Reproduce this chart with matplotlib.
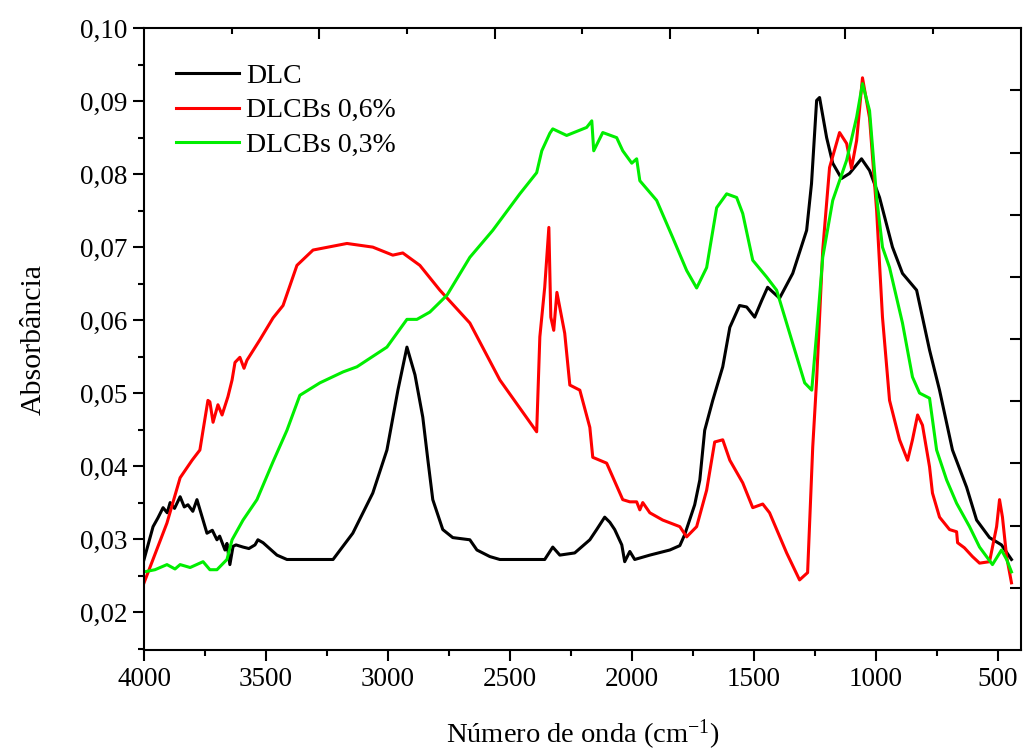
import numpy as np
import matplotlib.pyplot as plt
from matplotlib.ticker import MultipleLocator, FuncFormatter

plt.rcParams['font.family'] = ['Liberation Serif', 'DejaVu Serif']
plt.rcParams['mathtext.fontset'] = 'custom'
plt.rcParams['mathtext.rm'] = 'Liberation Serif'
plt.rcParams['mathtext.default'] = 'regular'

# DLC (black)
dlc_x = [4000, 3963, 3943, 3922, 3905, 3893, 3875, 3852, 3835, 3820, 3800, 3783, 3758, 3742,
         3720, 3701, 3690, 3668, 3660, 3648, 3635, 3623, 3594, 3570, 3545, 3533, 3512, 3455,
         3414, 3225, 3144, 3062, 3004, 2959, 2922, 2889, 2857, 2836, 2816, 2775, 2734, 2664,
         2635, 2582, 2541, 2357, 2324, 2295, 2234, 2172, 2144, 2111, 2090, 2070, 2041, 2029,
         2008, 1988, 1926, 1844, 1803, 1783, 1742, 1721, 1701, 1668, 1627, 1598, 1558, 1529,
         1496, 1467, 1443, 1394, 1340, 1283, 1263, 1242, 1230, 1201, 1176, 1140, 1107, 1058,
         1025, 984, 931, 890, 832, 779, 738, 685, 627, 586, 533, 484, 443]
dlc_y = [0.0272, 0.0317, 0.0329, 0.0343, 0.0336, 0.0350, 0.0342, 0.0358, 0.0344, 0.0347, 0.0338, 0.0354, 0.0326, 0.0308,
         0.0312, 0.0299, 0.0304, 0.0285, 0.0294, 0.0265, 0.0290, 0.0292, 0.0289, 0.0287, 0.0292, 0.0299, 0.0295, 0.0278,
         0.0272, 0.0272, 0.0308, 0.0363, 0.0422, 0.0504, 0.0563, 0.0525, 0.0467, 0.0408, 0.0354, 0.0313, 0.0302, 0.0299,
         0.0285, 0.0276, 0.0272, 0.0272, 0.0289, 0.0278, 0.0281, 0.0299, 0.0313, 0.0330, 0.0323, 0.0313, 0.0292, 0.0269,
         0.0283, 0.0272, 0.0278, 0.0285, 0.0291, 0.0306, 0.0347, 0.0381, 0.0449, 0.0490, 0.0536, 0.0590, 0.0620, 0.0618,
         0.0604, 0.0627, 0.0645, 0.0630, 0.0664, 0.0723, 0.0787, 0.0901, 0.0905, 0.0850, 0.0815, 0.0794, 0.0801, 0.0821,
         0.0805, 0.0768, 0.0700, 0.0664, 0.0641, 0.0559, 0.0504, 0.0422, 0.0371, 0.0326, 0.0302, 0.0292, 0.0272]

# DLCBs 0,6% (red)
r06_x = [4000, 3906, 3852, 3803, 3771, 3758, 3738, 3730, 3717, 3697, 3680, 3656, 3639, 3627,
         3607, 3590, 3578, 3525, 3471, 3430, 3373, 3307, 3168, 3062, 2980, 2939, 2869, 2787,
         2664, 2541, 2390, 2377, 2357, 2340, 2332, 2320, 2307, 2275, 2254, 2213, 2172, 2160,
         2103, 2037, 2008, 1980, 1967, 1955, 1926, 1873, 1803, 1775, 1734, 1693, 1660, 1627,
         1598, 1545, 1504, 1463, 1435, 1365, 1312, 1279, 1258, 1242, 1217, 1189, 1148, 1119,
         1099, 1078, 1054, 1025, 996, 972, 943, 902, 869, 849, 828, 808, 779, 767, 738, 697,
         668, 664, 636, 603, 574, 533, 504, 492, 480, 463, 443]
r06_y = [0.0240, 0.0322, 0.0384, 0.0408, 0.0422, 0.0449, 0.0490, 0.0488, 0.0460, 0.0484, 0.0470, 0.0495, 0.0518, 0.0542,
         0.0549, 0.0534, 0.0545, 0.0573, 0.0603, 0.0620, 0.0675, 0.0696, 0.0705, 0.0700, 0.0689, 0.0692, 0.0675, 0.0641,
         0.0596, 0.0518, 0.0447, 0.0577, 0.0645, 0.0727, 0.0604, 0.0586, 0.0638, 0.0582, 0.0511, 0.0504, 0.0453, 0.0412,
         0.0404, 0.0354, 0.0351, 0.0351, 0.0340, 0.0350, 0.0336, 0.0326, 0.0317, 0.0303, 0.0317, 0.0367, 0.0433, 0.0436,
         0.0408, 0.0377, 0.0343, 0.0348, 0.0336, 0.0281, 0.0244, 0.0254, 0.0426, 0.0518, 0.0696, 0.0809, 0.0857, 0.0842,
         0.0808, 0.0846, 0.0932, 0.0877, 0.0750, 0.0604, 0.0490, 0.0436, 0.0408, 0.0436, 0.0470, 0.0456, 0.0399, 0.0363, 0.0330, 0.0313,
         0.0310, 0.0295, 0.0288, 0.0276, 0.0267, 0.0269, 0.0317, 0.0354, 0.0330, 0.0276, 0.0240]

# DLCBs 0,3% (green)
r03_x = [4000, 3955, 3906, 3873, 3852, 3811, 3758, 3730, 3701, 3660, 3639, 3594, 3537, 3471,
         3414, 3361, 3279, 3184, 3127, 3004, 2922, 2881, 2828, 2758, 2664, 2570, 2459, 2390,
         2369, 2336, 2324, 2267, 2185, 2164, 2156, 2119, 2062, 2037, 2000, 1980, 1967, 1898,
         1832, 1775, 1734, 1693, 1652, 1611, 1570, 1545, 1504, 1447, 1406, 1340, 1291, 1262,
         1242, 1217, 1176, 1119, 1078, 1054, 1025, 996, 972, 943, 890, 849, 820, 779, 750,
         709, 668, 615, 574, 521, 484, 463, 443]
r03_y = [0.0255, 0.0258, 0.0265, 0.0259, 0.0265, 0.0261, 0.0269, 0.0258, 0.0258, 0.0272, 0.0299, 0.0326, 0.0354, 0.0406,
         0.0449, 0.0497, 0.0514, 0.0529, 0.0536, 0.0563, 0.0601, 0.0601, 0.0611, 0.0634, 0.0686, 0.0723, 0.0773, 0.0802,
         0.0832, 0.0856, 0.0862, 0.0853, 0.0864, 0.0873, 0.0832, 0.0857, 0.0850, 0.0832, 0.0815, 0.0821, 0.0791, 0.0764,
         0.0713, 0.0668, 0.0644, 0.0672, 0.0754, 0.0773, 0.0768, 0.0746, 0.0682, 0.0659, 0.0641, 0.0568, 0.0514, 0.0504,
         0.0582, 0.0686, 0.0764, 0.0819, 0.0878, 0.0924, 0.0887, 0.0768, 0.0700, 0.0672, 0.0596, 0.0522, 0.0500, 0.0493, 0.0422,
         0.0381, 0.0349, 0.0317, 0.0289, 0.0265, 0.0285, 0.0272, 0.0255]

fig = plt.figure(figsize=(10.23, 7.51), dpi=100)
pos = [0.1408, 0.1345, 0.857, 0.828]
ax = fig.add_axes(pos)

ax.plot(dlc_x, dlc_y, color='black', lw=2.2, label='DLC')
ax.plot(r06_x, r06_y, color='#ff0000', lw=2.2, label='DLCBs 0,6%')
ax.plot(r03_x, r03_y, color='#00ee00', lw=2.2, label='DLCBs 0,3%')

ax.set_xlim(4000, 405)
ax.set_ylim(0.0148, 0.10)
ax.xaxis.set_major_locator(MultipleLocator(500))
ax.xaxis.set_minor_locator(MultipleLocator(250))
ax.yaxis.set_major_locator(MultipleLocator(0.01))
ax.yaxis.set_minor_locator(MultipleLocator(0.005))
ax.yaxis.set_major_formatter(FuncFormatter(lambda v, p: f'{v:.2f}'.replace('.', ',')))
ax.tick_params(which='major', direction='out', length=8, width=1.5, labelsize=19.5, pad=4)
ax.tick_params(which='minor', direction='out', length=4.5, width=1.5)
ax.tick_params(top=False, right=False)
for s in ax.spines.values():
    s.set_linewidth(1.5)

ax.set_xlabel(r'Número de onda (cm$^{-1}$)', fontsize=20.5, labelpad=19)
ax.set_ylabel('Absorbância', fontsize=21.5, labelpad=24)

ax.legend(loc='upper left', bbox_to_anchor=(0.036, 0.943), frameon=False, fontsize=20,
          handlelength=2.3, handletextpad=0.25, labelspacing=0.32, borderpad=0, borderaxespad=0)

# inward ticks on the top and right frame
ov = fig.add_axes(pos, frameon=False)
ov.set_xlim(0, 1)
ov.set_ylim(0, 1)
ov.patch.set_visible(False)
ov.xaxis.tick_top()
ov.yaxis.tick_right()
ov.set_xticks([0.2, 0.4, 0.6, 0.8])
ov.set_xticks([0.1, 0.3, 0.5, 0.7, 0.9], minor=True)
ov.set_yticks([0.1, 0.2, 0.3, 0.4, 0.5, 0.6, 0.7, 0.8, 0.9])
ov.tick_params(which='major', direction='in', length=8, width=1.5, labeltop=False, labelright=False,
               labelbottom=False, labelleft=False)
ov.tick_params(which='minor', direction='in', length=4.5, width=1.5)

fig.savefig('out.png', dpi=100)
